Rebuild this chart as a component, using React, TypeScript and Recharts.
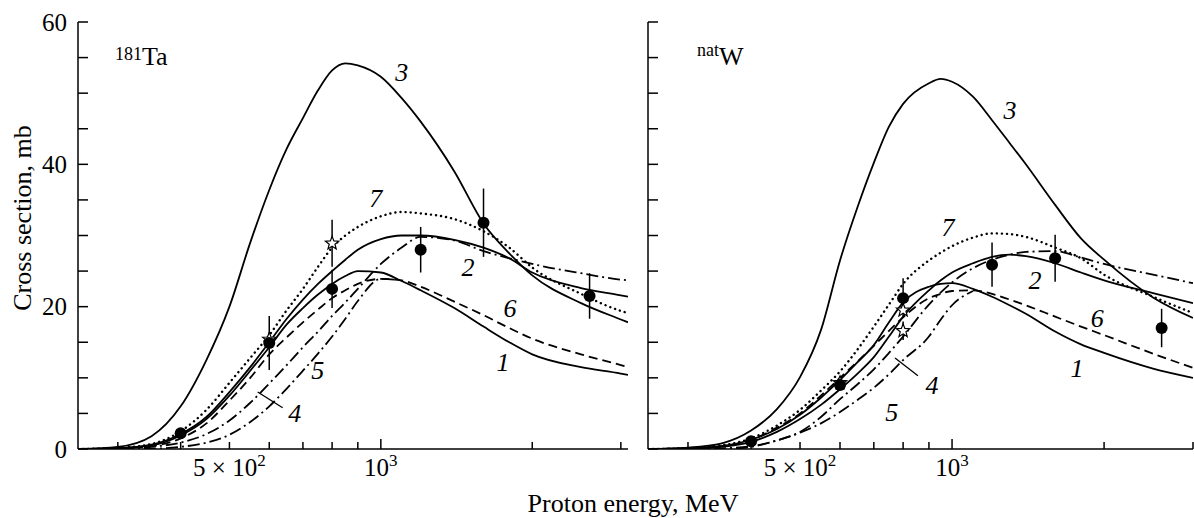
import {
  ComposedChart, Line, Scatter, XAxis, YAxis, ErrorBar,
  ReferenceDot, ReferenceLine,
} from 'recharts'

const FONT = "'Liberation Serif', 'DejaVu Serif', serif"

// energy grids, MeV
const taEnergy = [250, 300, 350, 400, 450, 500, 550, 600, 650, 700, 750, 800, 850, 900, 1000, 1100, 1200, 1400, 1600, 1800, 2000, 2500, 3000, 3100]
const wEnergy = [250, 300, 350, 400, 450, 500, 550, 600, 650, 700, 750, 800, 900, 950, 1000, 1100, 1200, 1300, 1400, 1600, 1800, 2000, 2500, 3000]

// 181Ta curves, mb
const ta1 = [0, 0.1, 0.5, 1.9, 4.2, 7.5, 11, 14.3, 17.5, 19.8, 21.7, 23.2, 24.3, 25, 24.8, 23.6, 22.3, 19.8, 17.2, 15, 13.3, 11.5, 10.6, 10.4]
const ta2 = [0, 0.1, 0.6, 2.1, 4.5, 8, 11.5, 15, 18.3, 21, 23.2, 25, 26.6, 28, 29.5, 30, 30, 29.4, 28.3, 26.8, 24.8, 22.6, 21.6, 21.4]
const ta3 = [0, 0.3, 1.8, 6, 12.5, 20, 29, 36.4, 42.2, 46.5, 50.4, 53.2, 54.2, 53.9, 52.3, 49.3, 46, 39, 31.7, 27.5, 24.4, 20.5, 18.2, 17.8]
const ta4 = [0, 0, 0.3, 0.9, 2.1, 4, 6.5, 9.2, 11.8, 14.3, 16.5, 18.7, 20.6, 22.5, 26, 28.3, 29.8, 29.3, 27.8, 26.8, 26, 24.7, 23.8, 23.7]
const ta5 = [0, 0, 0.05, 0.3, 0.9, 2, 3.8, 6, 8.5, 11, 13.4, 15.8, 18.3, 20.8, 23.9, 23.7, null, null, null, null, null, null, null, null]
const ta6 = [0, 0.1, 0.4, 1.5, 3.6, 6.8, 10, 13.3, 15.7, 17.8, 19.6, 21.2, 22.3, 23.2, 23.9, 23.7, 22.8, 20.7, 18.8, 17, 15.5, 13.3, 11.8, 11.5]
const ta7 = [0, 0.15, 0.7, 2.5, 5.5, 9.3, 12.8, 16, 19.5, 22.5, 25.6, 28.3, 30, 31.2, 32.7, 33.3, 33.1, 32.3, 30.6, 28.3, 25.5, 21.8, 19.4, 19.1]

// natW curves, mb
const w1 = [0, 0.1, 0.4, 1.3, 2.8, 4.8, 7.2, 9.7, 12.2, 14.6, 17.8, 20.6, 22.8, 23.2, 23.3, 22.5, 21.4, 20.2, 19, 16.5, 14.7, 13.5, 11.3, 10]
const w2 = [0, 0.05, 0.3, 1, 2.4, 4.2, 6.2, 8.4, 10.6, 12.9, 15.8, 18.6, 22.3, 23.7, 24.8, 26.1, 27, 27.3, 27.1, 26.1, 24.8, 23.7, 21.9, 20.5]
const w3 = [0, 0.2, 0.8, 2.6, 5.6, 10.1, 16.7, 26.5, 34, 40.2, 45.3, 48.5, 51.4, 52, 51.6, 49.5, 46.2, 43, 40, 34.3, 29.6, 26.6, 21.3, 18.4]
const w4 = [0, 0, 0.1, 0.4, 1.2, 2.4, 4.5, 7, 9.1, 11.2, 13.5, 15.8, 20.3, 22, 23.4, 25.4, 26.6, 27.3, 27.7, 27.8, 26.9, 26, 24.5, 23.3]
const w5 = [0, 0, 0, 0.3, 1.2, 2.3, 3.6, 5.2, 6.9, 8.6, 10.5, 12.5, 15.8, 18.2, 20.2, 22.2, null, null, null, null, null, null, null, null]
const w6 = [0, 0.1, 0.4, 1.3, 3, 5, 7.5, 10, 12.3, 14.5, 16.6, 18.5, 21.2, 21.8, 22.2, 22.3, 21.8, 21, 20.2, 18.6, 17.2, 16, 13.4, 11.4]
const w7 = [0, 0.1, 0.5, 1.5, 3.3, 5.5, 8.2, 10.9, 14, 17.2, 20.3, 23.2, 26.5, 27.6, 28.5, 29.7, 30.3, 30.2, 29.8, 28.3, 26.8, 24.5, 21.4, 19.1]

// measured points
const taDotE = [400, 600, 800, 1200, 1600, 2600]
const taDotV = [2.2, 14.9, 22.5, 28, 31.8, 21.5]
const taDotErr = [0, 3.8, 2.7, 3.2, 4.8, 3.2]
const taStarE = [600, 800]
const taStarV = [15.4, 28.9]
const taStarErr = [0, 3.3]

const wDotE = [400, 600, 800, 1200, 1600, 2600]
const wDotV = [1.1, 9, 21.2, 25.9, 26.8, 17]
const wDotErr = [0, 0, 2.8, 3.1, 3.3, 2.7]
const wStarE = [600, 800, 800]
const wStarV = [9.3, 19.5, 16.6]
const wStarErr = [0, 0, 1.3]

// curve numbers (energy, mb)
const taNotes = [
  { t: '3', e: 1101, v: 53 }, { t: '7', e: 977, v: 35.3 }, { t: '2', e: 1491, v: 25.6 },
  { t: '6', e: 1807, v: 19.8 }, { t: '1', e: 1749, v: 12.2 }, { t: '5', e: 749, v: 11.1 },
  { t: '4', e: 674, v: 5.1 },
]
const wNotes = [
  { t: '3', e: 1303, v: 47.6 }, { t: '7', e: 982, v: 31.2 }, { t: '2', e: 1460, v: 23.7 },
  { t: '6', e: 1938, v: 18.4 }, { t: '1', e: 1768, v: 11.4 }, { t: '4', e: 913, v: 9 },
  { t: '5', e: 760, v: 5.2 },
]
const taLeader = [{ x: 569, y: 8 }, { x: 638, y: 5.8 }]
const wLeader = [{ x: 771, y: 12.8 }, { x: 856, y: 10.3 }]

const xTicks = [300, 400, 500, 600, 700, 800, 900, 1000, 2000, 3000]
const yTicks = [0, 5, 10, 15, 20, 25, 30, 35, 40, 45, 50, 55, 60]

const curveStyle: Record<string, any> = {
  '1': {},
  '2': {},
  '3': {},
  '4': { strokeDasharray: '12 4 2 4' },
  '5': { strokeDasharray: '12 4 2 4' },
  '6': { strokeDasharray: '9 5' },
  '7': { strokeDasharray: '0.1 5', strokeLinecap: 'round', strokeWidth: 2.4 },
}

const txt = { fontFamily: FONT, fill: '#000' }

const rows = (xs: number[], ys: (number | null)[]) => xs.map((e, i) => ({ e, v: ys[i] }))
const pts = (xs: number[], ys: number[], err: number[]) => xs.map((e, i) => ({ e, v: ys[i], err: err[i] }))

const XTick = ({ x, y, payload }: any) => {
  const v = payload.value
  return (
    <g>
      <line x1={x} x2={x} y1={y} y2={y - (v === 1000 ? 10 : 7)} stroke="#000" strokeWidth={1.5} />
      {v === 500 && (
        <text x={x} y={y + 27} textAnchor="middle" fontSize={25} style={txt}>
          5 × 10<tspan dy={-10} fontSize={17}>2</tspan>
        </text>
      )}
      {v === 1000 && (
        <text x={x} y={y + 27} textAnchor="middle" fontSize={25} style={txt}>
          10<tspan dy={-10} fontSize={17}>3</tspan>
        </text>
      )}
    </g>
  )
}

const makeYTick = (withLabels: boolean) => ({ x, y, payload }: any) => (
  <g>
    <line x1={x} x2={x + 10} y1={y} y2={y} stroke="#000" strokeWidth={1.5} />
    {withLabels && payload.value % 20 === 0 && (
      <text x={x - 11} y={y + 8.5} textAnchor="end" fontSize={25} style={txt}>
        {payload.value}
      </text>
    )}
  </g>
)

const Dot = ({ cx, cy }: any) => <circle cx={cx} cy={cy} r={6} fill="#000" />

const Star = ({ cx, cy }: any) => {
  const p: string[] = []
  for (let i = 0; i < 10; i++) {
    const r = i % 2 ? 3 : 7
    const a = -Math.PI / 2 + (i * Math.PI) / 5
    p.push(`${cx + r * Math.cos(a)},${cy + r * Math.sin(a)}`)
  }
  return <polygon points={p.join(' ')} fill="#fff" stroke="#000" strokeWidth={1.2} />
}

const noteShape = (t: string) => ({ cx, cy }: any) => (
  <text x={cx} y={cy + 9} textAnchor="middle" fontSize={26} style={{ ...txt, fontStyle: 'italic' }}>
    {t}
  </text>
)

interface PanelProps {
  width: number
  yWidth: number
  right: number
  domain: [number, number]
  labels: boolean
  energy: number[]
  curves: [string, (number | null)[]][]
  dots: any[]
  stars: any[]
  notes: { t: string; e: number; v: number }[]
  leader: { x: number; y: number }[]
}

function Panel(p: PanelProps) {
  return (
    <ComposedChart width={p.width} height={518} margin={{ top: 22, right: p.right, bottom: 29, left: 0 }}>
      <XAxis
        dataKey="e" type="number" scale="log" domain={p.domain} allowDataOverflow
        ticks={xTicks} interval={0} tick={<XTick />} tickLine={false} tickSize={0} tickMargin={0}
        height={40} axisLine={{ stroke: '#000', strokeWidth: 1.5 }}
      />
      <YAxis
        dataKey="v" type="number" domain={[0, 60]} allowDataOverflow
        ticks={yTicks} interval={0} tick={makeYTick(p.labels)} tickLine={false} tickSize={0} tickMargin={0}
        width={p.yWidth} axisLine={{ stroke: '#000', strokeWidth: 1.5 }}
      />
      {p.curves.map(([name, vals]) => (
        <Line
          key={name} data={rows(p.energy, vals)} dataKey="v" type="monotone"
          stroke="#000" strokeWidth={1.8} dot={false} activeDot={false}
          isAnimationActive={false} {...curveStyle[name]}
        />
      ))}
      <Scatter data={p.stars} dataKey="v" shape={Star} isAnimationActive={false}>
        <ErrorBar dataKey="err" direction="y" width={0} stroke="#000" strokeWidth={1.5} />
      </Scatter>
      <Scatter data={p.dots} dataKey="v" shape={Dot} isAnimationActive={false}>
        <ErrorBar dataKey="err" direction="y" width={0} stroke="#000" strokeWidth={1.5} />
      </Scatter>
      <ReferenceLine segment={p.leader} stroke="#000" strokeWidth={1.3} />
      {p.notes.map((n) => (
        <ReferenceDot key={n.t} x={n.e} y={n.v} r={0} shape={noteShape(n.t)} />
      ))}
    </ComposedChart>
  )
}

export default function App() {
  return (
    <div style={{ position: 'absolute', left: 0, top: 0, width: 1194, height: 518, overflow: 'hidden', background: '#fff' }}>
      <div style={{ position: 'absolute', left: 0, top: 0 }}>
        <Panel
          width={640} yWidth={78} right={12} domain={[250, 3100]} labels
          energy={taEnergy}
          curves={[['1', ta1], ['2', ta2], ['3', ta3], ['4', ta4], ['5', ta5], ['6', ta6], ['7', ta7]]}
          dots={pts(taDotE, taDotV, taDotErr)} stars={pts(taStarE, taStarV, taStarErr)}
          notes={taNotes} leader={taLeader}
        />
      </div>
      <div style={{ position: 'absolute', left: 640, top: 0 }}>
        <Panel
          width={554} yWidth={8} right={1} domain={[250, 3000]} labels={false}
          energy={wEnergy}
          curves={[['1', w1], ['2', w2], ['3', w3], ['4', w4], ['5', w5], ['6', w6], ['7', w7]]}
          dots={pts(wDotE, wDotV, wDotErr)} stars={pts(wStarE, wStarV, wStarErr)}
          notes={wNotes} leader={wLeader}
        />
      </div>
      <svg width={1194} height={518} style={{ position: 'absolute', left: 0, top: 0, pointerEvents: 'none' }}>
        <text transform="translate(31,218) rotate(-90)" textAnchor="middle" fontSize={26} style={txt}>
          Cross section, mb
        </text>
        <text x={633} y={512} textAnchor="middle" fontSize={26} style={txt}>
          Proton energy, MeV
        </text>
        <text x={115} y={65} fontSize={26} style={txt}>
          <tspan fontSize={18} dy={-5}>181</tspan><tspan dy={5}>Ta</tspan>
        </text>
        <text x={697} y={65} fontSize={26} style={txt}>
          <tspan fontSize={18} dy={-9}>nat</tspan><tspan dy={9}>W</tspan>
        </text>
      </svg>
    </div>
  )
}
